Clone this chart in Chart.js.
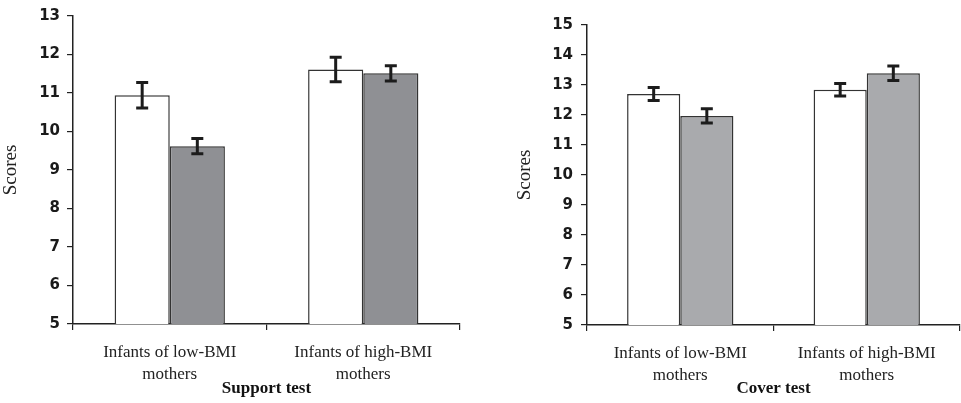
<!DOCTYPE html>
<html>
<head>
<meta charset="utf-8">
<script src="https://cdn.jsdelivr.net/npm/chart.js@4/dist/chart.umd.min.js"></script>
<style>
  body { margin: 0; background: #fff; }
  .wrap { position: absolute; top: 0; height: 403px; }
  #w1 { left: 0; width: 480px; }
  #w2 { left: 480px; width: 481px; }
</style>
</head>
<body>
<div class="wrap" id="w1"><canvas id="supportChart"></canvas></div>
<div class="wrap" id="w2"><canvas id="coverChart"></canvas></div>
<script>
// categories
const groups = [['Infants of low-BMI', 'mothers'], ['Infants of high-BMI', 'mothers']];

// Support test
const supportTicks = [5, 13];
const supportWhite = [10.94, 11.61];
const supportWhiteErr = [0.33, 0.32];
const supportGray = [9.62, 11.51];
const supportGrayErr = [0.20, 0.20];

// Cover test
const coverTicks = [5, 15];
const coverWhite = [12.70, 12.84];
const coverWhiteErr = [0.22, 0.21];
const coverGray = [11.97, 13.39];
const coverGrayErr = [0.24, 0.24];

const ink = '#222';

// error bars drawn from each bar element + the y scale
const errorBars = {
    id: 'errorBars',
    afterDatasetsDraw(chart) {
        const ctx = chart.ctx;
        const y = chart.scales.y;
        chart.data.datasets.forEach((ds, i) => {
            const meta = chart.getDatasetMeta(i);
            meta.data.forEach((bar, j) => {
                const v = ds.data[j], e = ds.errors[j];
                const top = y.getPixelForValue(v + e);
                const bot = y.getPixelForValue(v - e);
                ctx.save();
                ctx.strokeStyle = '#1c1c1c';
                ctx.lineWidth = 3;
                ctx.beginPath();
                ctx.moveTo(bar.x, top); ctx.lineTo(bar.x, bot);
                ctx.moveTo(bar.x - 6, top); ctx.lineTo(bar.x + 6, top);
                ctx.moveTo(bar.x - 6, bot); ctx.lineTo(bar.x + 6, bot);
                ctx.stroke();
                ctx.restore();
            });
        });
    }
};

function makeChart(id, white, whiteErr, gray, grayErr, grayColor, range, title, pad, xHeight, tickPad) {
    return new Chart(document.getElementById(id), {
        type: 'bar',
        data: {
            labels: groups,
            datasets: [
                { data: white, errors: whiteErr, backgroundColor: '#ffffff', borderColor: '#333', borderWidth: 1.5 },
                { data: gray, errors: grayErr, backgroundColor: grayColor, borderColor: '#333', borderWidth: 1.5 }
            ]
        },
        options: {
            responsive: true,
            maintainAspectRatio: false,
            animation: false,
            layout: { padding: pad },
            plugins: { legend: { display: false }, tooltip: { enabled: false } },
            datasets: { bar: { barPercentage: 1, categoryPercentage: 0.57 } },
            scales: {
                x: {
                    grid: { drawOnChartArea: false, tickLength: 6, color: ink, lineWidth: 1.2 },
                    border: { color: ink, width: 1.5 },
                    ticks: { color: '#222', padding: 11, font: { family: '"Liberation Serif", serif', size: 17, lineHeight: 1.3 } },
                    title: { display: true, text: title, color: '#111', padding: { top: 0, bottom: 4 },
                             font: { family: '"Liberation Serif", serif', size: 17, weight: 'bold' } },
                    afterFit: s => { s.height = xHeight; }
                },
                y: {
                    min: range[0], max: range[1],
                    grid: { drawOnChartArea: false, tickLength: 6, color: ink, lineWidth: 1.2 },
                    border: { color: ink, width: 1.5 },
                    ticks: { stepSize: 1, color: '#1a1a1a', padding: tickPad, font: { family: '"DejaVu Sans", sans-serif', size: 15, weight: 'bold' } },
                    title: { display: true, text: 'Scores', color: '#222', padding: { top: 0, bottom: 7 },
                             font: { family: '"Liberation Serif", serif', size: 19 } },
                    afterFit: s => { s.width = 73; }
                }
            }
        },
        plugins: [errorBars]
    });
}

makeChart('supportChart', supportWhite, supportWhiteErr, supportGray, supportGrayErr, '#8f9094',
    supportTicks, 'Support test', { left: 0, right: 20, top: 14, bottom: 0 }, 79, 7);
makeChart('coverChart', coverWhite, coverWhiteErr, coverGray, coverGrayErr, '#a9aaad',
    coverTicks, 'Cover test', { left: 34, right: 1, top: 25, bottom: 0 }, 78, 8);
</script>
</body>
</html>
